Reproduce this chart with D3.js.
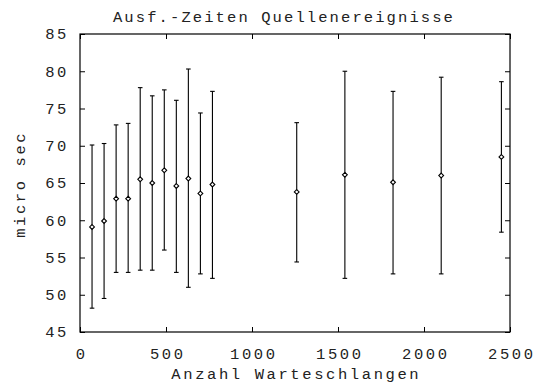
<!DOCTYPE html>
<html>
<head>
<meta charset="utf-8">
<script src="https://cdn.jsdelivr.net/npm/d3@7"></script>
<style>
  html, body { margin: 0; padding: 0; background: #fff; }
  svg { display: block; }
  text { font-family: "Liberation Mono", "DejaVu Sans Mono", monospace; fill: #222; }
</style>
</head>
<body>
<script>
// Number of queues (x) and execution time statistics in microseconds
const queues = [70, 140, 210, 280, 350, 420, 490, 560, 630, 700, 770, 1260, 1540, 1820, 2100, 2450];
const meanTime = [59.1, 59.9, 62.9, 62.9, 65.5, 65.0, 66.7, 64.6, 65.6, 63.6, 64.8, 63.8, 66.1, 65.1, 66.0, 68.5];
const lowTime  = [48.2, 49.5, 53.0, 53.0, 53.3, 53.3, 56.0, 53.0, 51.0, 52.8, 52.2, 54.4, 52.2, 52.8, 52.8, 58.4];
const highTime = [70.1, 70.3, 72.8, 73.0, 77.8, 76.7, 77.5, 76.1, 80.3, 74.4, 77.3, 73.1, 80.0, 77.3, 79.2, 78.6];

const xTicks = [0, 500, 1000, 1500, 2000, 2500];
const yTicks = [45, 50, 55, 60, 65, 70, 75, 80, 85];

const titleText = "Ausf.-Zeiten Quellenereignisse";
const xLabel = "Anzahl Warteschlangen";
const yLabel = "micro sec";

const W = 535, H = 385;
const margin = { left: 80, right: 25, top: 34, bottom: 53 };
const iw = W - margin.left - margin.right;
const ih = H - margin.top - margin.bottom;

const svg = d3.select("body").append("svg").attr("width", W).attr("height", H);
const g = svg.append("g").attr("transform", `translate(${margin.left},${margin.top})`);

const x = d3.scaleLinear().domain([0, 2500]).range([0, iw]);
const y = d3.scaleLinear().domain([45, 85]).range([ih, 0]);

const fontSize = 15.5, spacing = 2.6;
const TL = 5;

// Frame
g.append("rect").attr("x", 0).attr("y", 0).attr("width", iw).attr("height", ih)
  .attr("fill", "none").attr("stroke", "#000").attr("stroke-width", 1.2);

// Axes with inward ticks, mirrored on top and right
function styleAxis(sel) {
  sel.select(".domain").remove();
  sel.selectAll(".tick line").attr("stroke", "#000");
  sel.selectAll("text").attr("font-size", fontSize).attr("letter-spacing", spacing)
    .attr("font-family", '"Liberation Mono", monospace').attr("fill", "#222");
}

g.append("g").attr("transform", `translate(0,${ih})`)
  .call(d3.axisBottom(x).tickValues(xTicks).tickSizeInner(-TL).tickSizeOuter(0).tickPadding(15.5).tickFormat(d3.format("d")))
  .call(styleAxis)
  .selectAll("text").attr("dx", spacing / 2);
g.append("g")
  .call(d3.axisTop(x).tickValues(xTicks).tickSizeInner(-TL).tickSizeOuter(0).tickFormat(""))
  .call(styleAxis);
g.append("g")
  .call(d3.axisLeft(y).tickValues(yTicks).tickSizeInner(-TL).tickSizeOuter(0).tickPadding(11).tickFormat(d3.format("d")))
  .call(styleAxis);
g.append("g").attr("transform", `translate(${iw},0)`)
  .call(d3.axisRight(y).tickValues(yTicks).tickSizeInner(-TL).tickSizeOuter(0).tickFormat(""))
  .call(styleAxis);

// Error bars
const data = queues.map((q, i) => ({ q, m: meanTime[i], lo: lowTime[i], hi: highTime[i] }));
const cap = 2.3;
const bars = g.append("g").attr("stroke", "#000").attr("stroke-width", 1.1);
data.forEach(d => {
  const cx = x(d.q);
  bars.append("line").attr("x1", cx).attr("x2", cx).attr("y1", y(d.lo)).attr("y2", y(d.hi));
  bars.append("line").attr("x1", cx - cap).attr("x2", cx + cap).attr("y1", y(d.lo)).attr("y2", y(d.lo));
  bars.append("line").attr("x1", cx - cap).attr("x2", cx + cap).attr("y1", y(d.hi)).attr("y2", y(d.hi));
});

// Mean markers: small hollow diamonds
const r = 2.4;
g.append("g").selectAll("path").data(data).join("path")
  .attr("d", d => {
    const cx = x(d.q), cy = y(d.m);
    return `M${cx},${cy - r}L${cx + r},${cy}L${cx},${cy + r}L${cx - r},${cy}Z`;
  })
  .attr("fill", "#fff").attr("stroke", "#000").attr("stroke-width", 1.1);

// Titles
svg.append("text").attr("x", 284).attr("y", 22)
  .attr("text-anchor", "middle").attr("font-size", fontSize).attr("letter-spacing", 2.1)
  .text(titleText);
svg.append("text").attr("x", margin.left + iw / 2 + spacing / 2).attr("y", 379)
  .attr("text-anchor", "middle").attr("font-size", fontSize).attr("letter-spacing", spacing)
  .text(xLabel);
svg.append("text").attr("transform", `translate(25,${margin.top + ih / 2 + spacing / 2}) rotate(-90)`)
  .attr("text-anchor", "middle").attr("font-size", fontSize).attr("letter-spacing", spacing)
  .text(yLabel);
</script>
</body>
</html>
